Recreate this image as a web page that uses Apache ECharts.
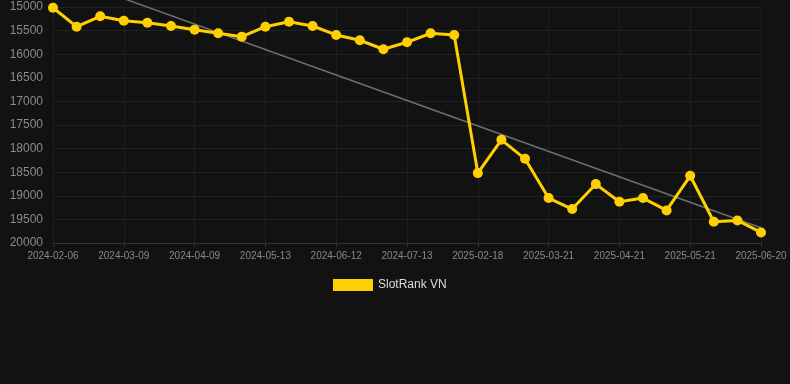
<!DOCTYPE html>
<html><head><meta charset="utf-8">
<script src="https://cdn.jsdelivr.net/npm/echarts@6/dist/echarts.min.js"></script>
<style>html,body{margin:0;padding:0;background:#121212;}#c{width:790px;height:384px;}</style>
</head><body><div id="c"></div>
<script>
const dates = ["2024-02-06","2024-02-16","2024-02-27","2024-03-09","2024-03-19","2024-03-30","2024-04-09","2024-04-20","2024-05-01","2024-05-13","2024-05-23","2024-06-02","2024-06-12","2024-06-22","2024-07-03","2024-07-13","2024-07-23","2024-08-02","2025-02-18","2025-02-28","2025-03-10","2025-03-21","2025-03-31","2025-04-11","2025-04-21","2025-05-01","2025-05-11","2025-05-21","2025-05-31","2025-06-10","2025-06-20"];
const ranks = [15015,15417,15197,15290,15332,15402,15480,15557,15628,15417,15311,15402,15592,15705,15895,15747,15557,15592,18519,17814,18216,19048,19281,18752,19126,19048,19310,18576,19550,19522,19776];
const trendStart = 14283;
const trendEnd = 19676;
const seriesName = "SlotRank VN";

const trend = dates.map((d, i) => i === 0 ? trendStart : (i === dates.length - 1 ? trendEnd : null));

const chart = echarts.init(document.getElementById('c'));
chart.setOption({
  backgroundColor: '#121212',
  animation: false,
  grid: { left: 53, right: 29, top: 7, bottom: 141 },
  legend: {
    data: [{ name: seriesName, icon: 'rect' }], left: 328, top: 274,
    itemWidth: 40, itemHeight: 12, itemGap: 6,
    textStyle: { color: '#dddddd', fontSize: 12, fontFamily: 'Liberation Sans, Arial, sans-serif' }
  },
  xAxis: {
    type: 'category', data: dates, boundaryGap: false,
    axisLine: { lineStyle: { color: '#333333' } },
    axisTick: { show: true, interval: 2, length: 4, lineStyle: { color: '#333333' } },
    axisLabel: { interval: 2, color: '#888888', fontSize: 10, margin: 8, fontFamily: 'Liberation Sans, Arial, sans-serif' },
    splitLine: { show: true, interval: 2, lineStyle: { color: '#1f1f1f' } }
  },
  yAxis: {
    type: 'value', inverse: true, min: 15000, max: 20000, interval: 500,
    axisLine: { show: false }, axisTick: { show: false },
    axisLabel: { color: '#8a8a8a', fontSize: 12, margin: 10, formatter: v => String(v), fontFamily: 'Liberation Sans, Arial, sans-serif' },
    splitLine: { lineStyle: { color: '#222222' } }
  },
  series: [
    {
      name: 'trend', type: 'line', data: trend, connectNulls: true,
      symbol: 'none', silent: true, clip: false,
      lineStyle: { color: '#707070', width: 1.5 }, z: 1
    },
    {
      name: seriesName, type: 'line', data: ranks,
      symbol: 'circle', symbolSize: 10,
      itemStyle: { color: '#ffd000' },
      lineStyle: { color: '#ffd000', width: 3 }, z: 2
    }
  ]
});
</script></body></html>
